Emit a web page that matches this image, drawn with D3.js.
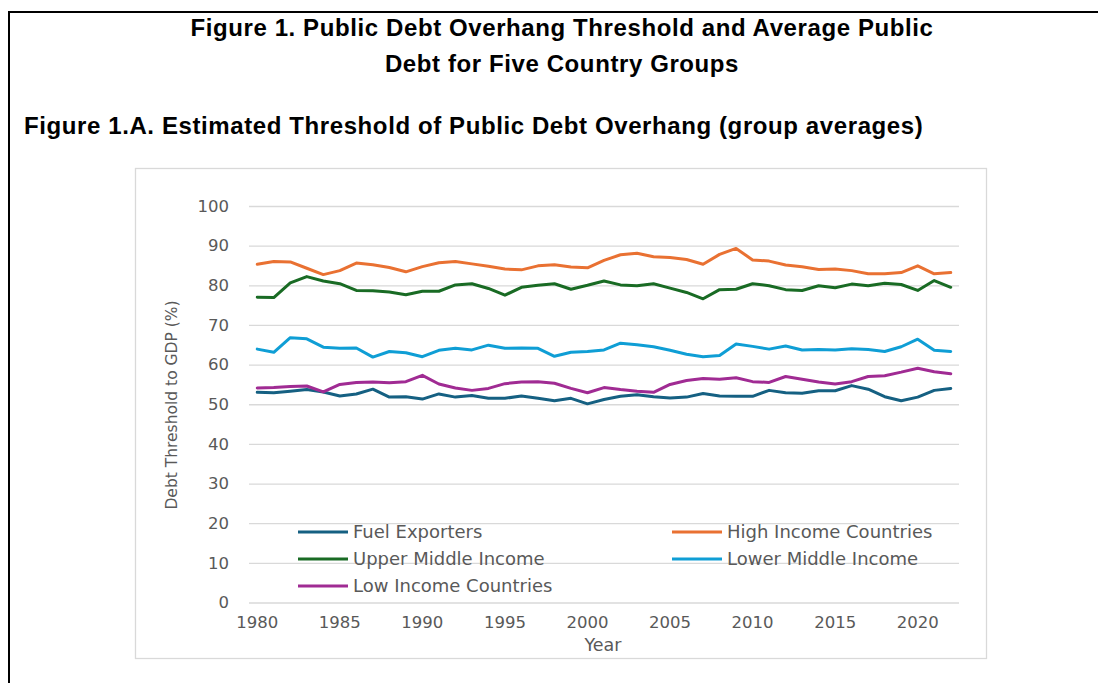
<!DOCTYPE html>
<html>
<head>
<meta charset="utf-8">
<script src="https://cdn.jsdelivr.net/npm/d3@7"></script>
<style>
  body { margin: 0; background: #fff; }
  svg { display: block; }
</style>
</head>
<body>
<main></main>
<script>
// data
const years = d3.range(1980, 2023);

const fuelExporters = [
  53.0, 52.9, 53.3, 53.7, 53.1, 52.1, 52.6, 53.8, 51.8, 51.9,
  51.3, 52.6, 51.8, 52.2, 51.5, 51.5, 52.1, 51.5, 50.9, 51.5,
  50.1, 51.2, 52.0, 52.4, 51.9, 51.6, 51.8, 52.7, 52.1, 52.0,
  52.0, 53.5, 52.9, 52.8, 53.4, 53.4, 54.7, 53.8, 51.9, 50.9,
  51.8, 53.5, 54.0
];
const highIncome = [
  85.3, 86.0, 85.9, 84.3, 82.7, 83.7, 85.6, 85.2, 84.5, 83.4,
  84.7, 85.7, 86.0, 85.4, 84.8, 84.1, 83.9, 84.9, 85.2, 84.6,
  84.4, 86.3, 87.7, 88.1, 87.2, 87.0, 86.5, 85.3, 87.8, 89.3,
  86.4, 86.1, 85.1, 84.7, 84.0, 84.1, 83.7, 82.9, 82.9, 83.2,
  84.9, 82.9, 83.2
];
const upperMiddle = [
  77.0, 76.9, 80.6, 82.2, 81.1, 80.4, 78.7, 78.6, 78.3, 77.6,
  78.5, 78.5, 80.1, 80.4, 79.2, 77.5, 79.5, 80.0, 80.4, 79.0,
  80.0, 81.1, 80.1, 79.9, 80.4, 79.3, 78.2, 76.6, 78.9, 79.0,
  80.4, 79.9, 78.9, 78.7, 79.9, 79.4, 80.3, 79.9, 80.5, 80.2,
  78.7, 81.2, 79.5
];
const lowerMiddle = [
  63.9, 63.1, 66.8, 66.5, 64.4, 64.1, 64.2, 61.9, 63.3, 63.0,
  62.0, 63.6, 64.1, 63.7, 64.9, 64.1, 64.2, 64.1, 62.1, 63.1,
  63.3, 63.7, 65.4, 65.0, 64.5, 63.6, 62.6, 62.0, 62.3, 65.2,
  64.6, 63.9, 64.7, 63.7, 63.8, 63.7, 64.0, 63.8, 63.3, 64.5,
  66.4, 63.6, 63.3
];
const lowIncome = [
  54.1, 54.2, 54.5, 54.6, 53.1, 55.0, 55.5, 55.6, 55.4, 55.7,
  57.3, 55.1, 54.1, 53.5, 54.0, 55.2, 55.6, 55.7, 55.3, 54.0,
  52.9, 54.2, 53.7, 53.3, 53.0, 55.0, 56.0, 56.5, 56.3, 56.7,
  55.7, 55.5, 57.0, 56.3, 55.6, 55.1, 55.7, 57.0, 57.2, 58.1,
  59.1, 58.2, 57.7
];

const seriesNames = [
  "Fuel Exporters",
  "High Income Countries",
  "Upper Middle Income",
  "Lower Middle Income",
  "Low Income Countries"
];
const seriesColors = ["#156082", "#E97132", "#196B24", "#0F9ED5", "#A02B93"];
const yTicks = [0, 10, 20, 30, 40, 50, 60, 70, 80, 90, 100];
const xTickYears = [1980, 1985, 1990, 1995, 2000, 2005, 2010, 2015, 2020];

const series = [fuelExporters, highIncome, upperMiddle, lowerMiddle, lowIncome].map(
  (vals, i) => ({ name: seriesNames[i], color: seriesColors[i], values: vals })
);

const W = 1098;
const H = 683;
const tickFont = "'DejaVu Sans', sans-serif";
const grey = "#595959";

const svg = d3
  .select("main")
  .append("svg")
  .attr("width", W)
  .attr("height", H);

svg.append("rect").attr("width", W).attr("height", H).attr("fill", "#fff");

// page frame (black rules top and left)
svg.append("line")
  .attr("x1", 8).attr("x2", W).attr("y1", 12).attr("y2", 12)
  .attr("stroke", "#000").attr("stroke-width", 2);
svg.append("line")
  .attr("x1", 9).attr("x2", 9).attr("y1", 11).attr("y2", H)
  .attr("stroke", "#000").attr("stroke-width", 2);

// titles
const titleFont = "'Liberation Sans', Arial, sans-serif";
[["Figure 1. Public Debt Overhang Threshold and Average Public", 36],
 ["Debt for Five Country Groups", 72]].forEach(([t, y]) => {
  svg.append("text")
    .attr("x", 562).attr("y", y)
    .attr("text-anchor", "middle")
    .style("font-family", titleFont)
    .style("font-weight", "bold")
    .style("font-size", "24px")
    .style("letter-spacing", "0.6px")
    .text(t);
});
svg.append("text")
  .attr("x", 24).attr("y", 134)
  .style("font-family", titleFont)
  .style("font-weight", "bold")
  .style("font-size", "24px")
  .style("letter-spacing", "0.6px")
  .text("Figure 1.A. Estimated Threshold of Public Debt Overhang (group averages)");

// chart box
svg.append("rect")
  .attr("x", 135.5).attr("y", 168.5)
  .attr("width", 851).attr("height", 490)
  .attr("fill", "none")
  .attr("stroke", "#d9d9d9")
  .attr("stroke-width", 1.3);

// scales
const xScale = d3.scaleBand().domain(years).range([249, 959]);
const xc = d => xScale(d) + xScale.bandwidth() / 2;
const yScale = d3.scaleLinear().domain([0, 100]).range([602.5, 206]);

// gridlines + y axis labels
const yAxis = svg.append("g")
  .attr("transform", "translate(249,0)")
  .call(d3.axisLeft(yScale).tickValues(yTicks).tickSize(-710).tickPadding(20));
yAxis.select(".domain").remove();
yAxis.selectAll(".tick line").attr("stroke", "#d9d9d9").attr("stroke-width", 1.3);
yAxis.selectAll(".tick text")
  .attr("fill", grey)
  .style("font-family", tickFont)
  .style("font-size", "16.5px");

// x axis labels (every 5 years)
const xAxis = svg.append("g")
  .attr("transform", "translate(0,602.5)")
  .call(d3.axisBottom(xScale).tickValues(xTickYears).tickSize(0).tickPadding(14));
xAxis.select(".domain").remove();
xAxis.selectAll(".tick text")
  .attr("fill", grey)
  .style("font-family", tickFont)
  .style("font-size", "16.5px");

// axis titles
svg.append("text")
  .attr("x", 603).attr("y", 651)
  .attr("text-anchor", "middle")
  .attr("fill", grey)
  .style("font-family", tickFont)
  .style("font-size", "17.5px")
  .text("Year");
svg.append("text")
  .attr("transform", "translate(177,405) rotate(-90)")
  .attr("text-anchor", "middle")
  .attr("fill", grey)
  .style("font-family", tickFont)
  .style("font-size", "15.5px")
  .text("Debt Threshold to GDP (%)");

// lines
const line = d3.line()
  .x((d, i) => xc(years[i]))
  .y(d => yScale(d));

svg.append("g")
  .selectAll("path")
  .data(series)
  .enter()
  .append("path")
  .attr("d", d => line(d.values))
  .attr("fill", "none")
  .attr("stroke", d => d.color)
  .attr("stroke-width", 3)
  .attr("stroke-linejoin", "round")
  .attr("stroke-linecap", "round");

// legend (2 columns)
const legend = svg.append("g")
  .selectAll("g")
  .data(series)
  .enter()
  .append("g")
  .attr("transform", (d, i) =>
    `translate(${i % 2 === 0 ? 298 : 672},${532 + Math.floor(i / 2) * 27})`);
legend.append("line")
  .attr("x1", 0).attr("x2", 50)
  .attr("stroke", d => d.color)
  .attr("stroke-width", 3);
legend.append("text")
  .attr("x", 55).attr("y", 6)
  .attr("fill", grey)
  .style("font-family", tickFont)
  .style("font-size", "18px")
  .text(d => d.name);
</script>
</body>
</html>
